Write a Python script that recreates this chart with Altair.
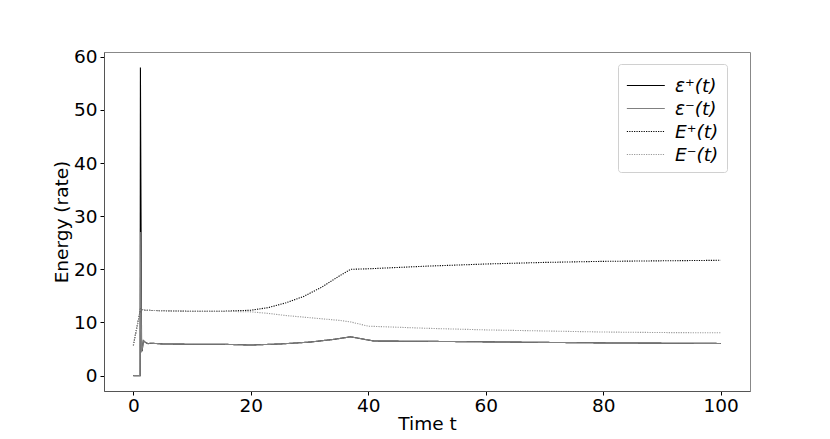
import altair as alt
import pandas as pd

# Solid curves (rates)
t_eps = [0, 1.15, 1.2, 1.4, 1.5, 1.7, 2.0, 2.5, 3, 5, 10, 15, 20, 25, 30, 34, 37, 39, 41, 50, 60, 70, 80, 90, 100]
eps_plus = [0, 0, 58, 5.0, 4.6, 6.6, 6.3, 6.0, 6.1, 5.95, 5.9, 5.9, 5.75, 5.95, 6.3, 6.8, 7.3, 6.9, 6.5, 6.45, 6.35, 6.25, 6.15, 6.1, 6.05]
t_epsm = [0, 1.15, 1.25, 1.4, 1.5, 1.7, 2.0, 2.5, 3, 5, 10, 15, 20, 25, 30, 34, 37, 39, 41, 50, 60, 70, 80, 90, 100]
eps_minus = [0, 0, 27, 4.6, 4.8, 6.6, 6.3, 6.0, 6.1, 5.95, 5.9, 5.9, 5.75, 5.95, 6.3, 6.8, 7.3, 6.9, 6.5, 6.45, 6.35, 6.25, 6.15, 6.1, 6.05]

# Dotted curves (energies)
t_E = [0, 1.2, 2, 5, 10, 15, 20, 23, 26, 29, 32, 35, 37, 40, 50, 60, 70, 80, 90, 100]
E_plus = [5.7, 12.5, 12.3, 12.2, 12.1, 12.1, 12.3, 12.8, 13.7, 14.9, 16.6, 18.7, 20.0, 20.1, 20.6, 21.0, 21.3, 21.5, 21.6, 21.7]
E_minus = [5.7, 12.5, 12.3, 12.2, 12.1, 12.1, 12.0, 11.7, 11.3, 11.0, 10.7, 10.4, 10.1, 9.3, 8.9, 8.6, 8.4, 8.2, 8.1, 8.05]

labels = ["ε⁺(t)", "ε⁻(t)", "E⁺(t)", "E⁻(t)"]
colors = ["#000000", "#808080", "#000000", "#999999"]
dashes = [[1, 0], [1, 0], [1.2, 1.2], [1.2, 1.2]]
x_ticks = [0, 20, 40, 60, 80, 100]
y_ticks = [0, 10, 20, 30, 40, 50, 60]

series = [(labels[0], t_eps, eps_plus), (labels[1], t_epsm, eps_minus),
          (labels[2], t_E, E_plus), (labels[3], t_E, E_minus)]
rows = []
for name, ts, vs in series:
    for i, (t, v) in enumerate(zip(ts, vs)):
        rows.append({"series": name, "t": t, "v": v, "i": i})
df = pd.DataFrame(rows)

FONT = "DejaVu Sans"

color_enc = alt.Color("series:N", sort=labels,
                      scale=alt.Scale(domain=labels, range=colors),
                      legend=alt.Legend(title=None, orient="none", legendX=514, legendY=12,
                                        symbolType="M-1,0H2", symbolSize=640, symbolStrokeWidth=1.2,
                                        symbolOpacity=1,
                                        labelFontSize=18.5, labelFont=FONT, labelFontStyle="italic",
                                        labelColor="black", rowPadding=0, padding=8,
                                        strokeColor="#d0d0d0", cornerRadius=3, fillColor="white",
                                        labelOffset=22))
dash_enc = alt.StrokeDash("series:N", sort=labels,
                          scale=alt.Scale(domain=labels, range=dashes), legend=None)

x_enc = alt.X("t:Q", scale=alt.Scale(domain=[-5, 105], nice=False, zero=False),
              axis=alt.Axis(values=x_ticks, title="Time t", grid=False, labelFontSize=18.5,
                            titleFontSize=18.5, labelFont=FONT, titleFont=FONT, titleFontWeight="normal",
                            tickSize=4, tickColor="black", domainColor="#555", labelColor="black",
                            titleColor="black", labelPadding=1, titlePadding=0))
y_enc = alt.Y("v:Q", scale=alt.Scale(domain=[-2.9, 60.9], nice=False, zero=False),
              axis=alt.Axis(values=y_ticks, title="Energy (rate)", grid=False, labelFontSize=18.5,
                            titleFontSize=18.5, labelFont=FONT, titleFont=FONT, titleFontWeight="normal",
                            tickSize=4, tickColor="black", domainColor="#555", labelColor="black",
                            titleColor="black", labelPadding=3, titlePadding=2))

layers = []
for name in labels:
    layers.append(
        alt.Chart(df).transform_filter(alt.datum.series == name).mark_line(strokeWidth=1.1).encode(
            x=x_enc, y=y_enc, color=color_enc, strokeDash=dash_enc, order="i:Q"
        )
    )

chart = alt.layer(*layers).properties(
    width=646, height=339,
    autosize=alt.AutoSizeParams(type="none"),
    padding={"left": 96, "top": 44, "right": 10, "bottom": 48},
    background="white",
).configure_view(stroke="#888", strokeWidth=1)

chart.save("out.html", embed_options={"renderer": "svg", "actions": False})
